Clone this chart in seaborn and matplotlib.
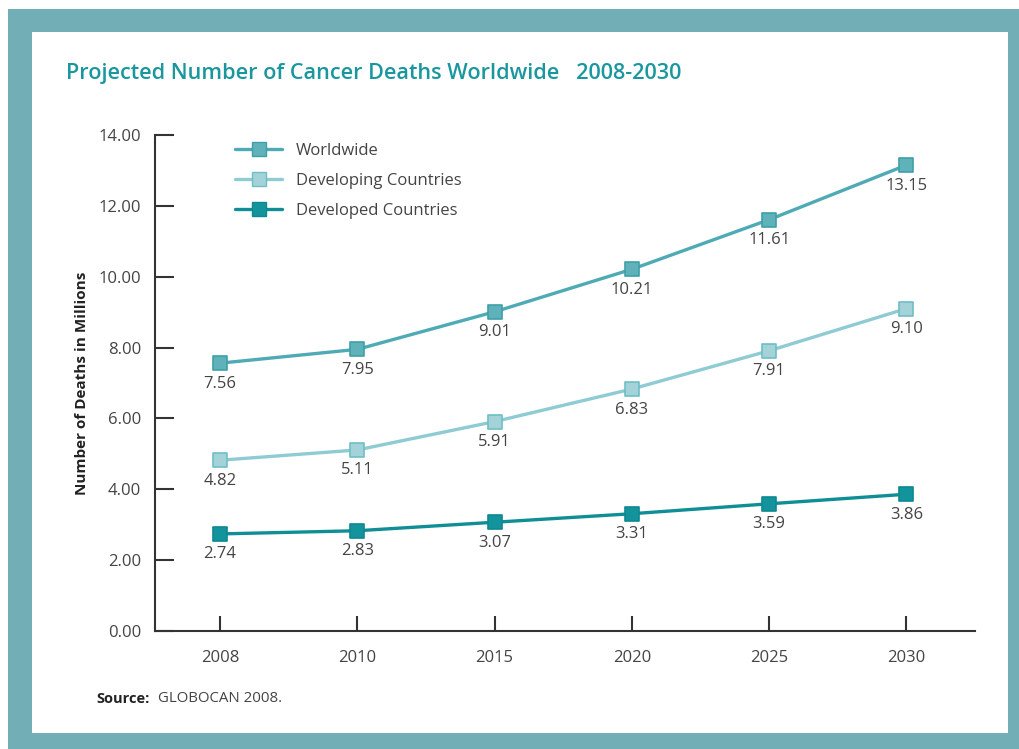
import matplotlib
matplotlib.use("Agg")
import matplotlib.pyplot as plt
import matplotlib.patches as mpatches
import seaborn as sns
import pandas as pd

years = ["2008", "2010", "2015", "2020", "2025", "2030"]
worldwide = [7.56, 7.95, 9.01, 10.21, 11.61, 13.15]
developing = [4.82, 5.11, 5.91, 6.83, 7.91, 9.10]
developed = [2.74, 2.83, 3.07, 3.31, 3.59, 3.86]
series_names = ["Worldwide", "Developing Countries", "Developed Countries"]
y_ticks = [0, 2, 4, 6, 8, 10, 12, 14]

line_colors = {"Worldwide": "#4eaab4", "Developing Countries": "#8ecbd2", "Developed Countries": "#0f8e96"}
face_colors = {"Worldwide": "#5fb1ba", "Developing Countries": "#a3d3d9", "Developed Countries": "#13949c"}
edge_colors = {"Worldwide": "#3f9fa9", "Developing Countries": "#6fbec6", "Developed Countries": "#0c8890"}

sns.set_style("white")
plt.rcParams["font.family"] = ["Open Sans", "DejaVu Sans"]

df = pd.DataFrame({
    "Year": years * 3,
    "Value": worldwide + developing + developed,
    "Series": [series_names[0]] * 6 + [series_names[1]] * 6 + [series_names[2]] * 6,
})

W, H = 1019, 749
fig = plt.figure(figsize=(W / 100, H / 100), dpi=100)
fig.patch.set_facecolor("white")
# frame
fig.patches.append(mpatches.Rectangle((8 / W, 0), 1 - 8 / W, 1 - 9 / H, transform=fig.transFigure,
                                      facecolor="#72aeb5", edgecolor="none", zorder=-10))
fig.patches.append(mpatches.Rectangle((32 / W, 1 - 733 / H), (1008 - 32) / W, (733 - 32) / H,
                                      transform=fig.transFigure, facecolor="white", edgecolor="none", zorder=-9))

ax = fig.add_axes([155 / W, 1 - 631 / H, (975 - 155) / W, (631 - 135) / H])
ax.set_facecolor("none")

sns.lineplot(data=df, x="Year", y="Value", hue="Series", hue_order=series_names,
             palette=line_colors, ax=ax, linewidth=2.4, legend=False, sort=False)

for name, vals in zip(series_names, [worldwide, developing, developed]):
    ax.scatter(years, vals, marker="s", s=110, color=face_colors[name],
               edgecolor=edge_colors[name], linewidth=1.2, zorder=5)
    for yr, v in zip(years, vals):
        ax.annotate(f"{v:.2f}", (yr, v), xytext=(0, -9), textcoords="offset points",
                    ha="center", va="top", fontsize=12, color="#444444")

ax.set_xlim(-0.474, 5.5)
ax.set_ylim(0, 14)
ax.set_yticks(y_ticks)
ax.set_yticklabels([f"{t:.2f}" for t in y_ticks], fontsize=12, color="#444444")
ax.set_xticks(range(len(years)))
ax.set_xticklabels(years, fontsize=12, color="#444444")
ax.tick_params(axis="y", left=True, direction="in", length=14, width=1.5, color="#333333", pad=10)
ax.tick_params(axis="x", bottom=True, direction="in", length=11, width=1.5, color="#333333", pad=14)
for s in ["top", "right"]:
    ax.spines[s].set_visible(False)
for s in ["left", "bottom"]:
    ax.spines[s].set_color("#333333")
    ax.spines[s].set_linewidth(1.5)
ax.set_xlabel("")
ax.set_ylabel("Number of Deaths in Millions", fontsize=11, fontweight="bold", color="#222222", labelpad=7)

handles = [plt.Line2D([], [], color=line_colors[n], lw=2.4, marker="s", markersize=10,
                      markerfacecolor=face_colors[n], markeredgecolor=edge_colors[n]) for n in series_names]
ax.legend(handles, series_names, loc="upper left", bbox_to_anchor=(0.079, 1.015), frameon=False,
          fontsize=12, handlelength=2.85, labelspacing=0.85, labelcolor="#444444")

fig.text(66 / W, 1 - 73 / H, "Projected Number of Cancer Deaths Worldwide   2008-2030",
         fontsize=15.6, fontweight="semibold", color="#1a979e", va="center", ha="left")
fig.text(96 / W, 1 - 699 / H, "Source:", fontsize=10.5, fontweight="bold", color="#222222", va="center")
fig.text(158 / W, 1 - 699 / H, "GLOBOCAN 2008.", fontsize=10.8, color="#444444", va="center")

fig.savefig("out.png", dpi=100)
